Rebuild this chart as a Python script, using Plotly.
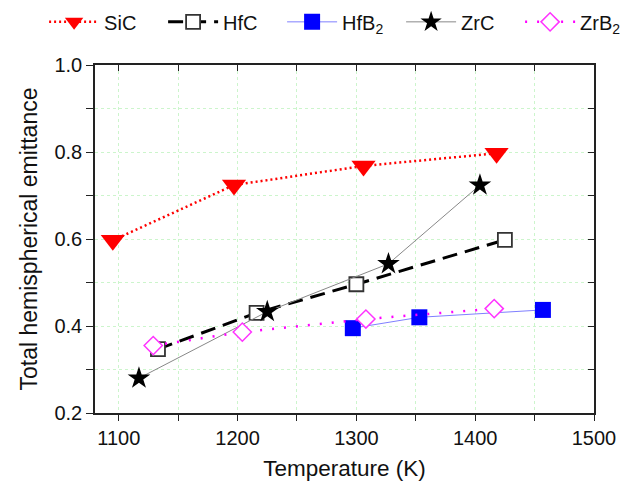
import plotly.graph_objects as go

# Data
sic_T = [1095, 1197, 1306, 1418]
sic_e = [0.597, 0.724, 0.768, 0.797]

hfc_T = [1133, 1216, 1300, 1425]
hfc_e = [0.347, 0.430, 0.496, 0.598]

hfb2_T = [1297, 1353, 1457]
hfb2_e = [0.395, 0.420, 0.437]

zrc_T = [1117, 1225, 1327, 1404]
zrc_e = [0.280, 0.433, 0.543, 0.724]

zrb2_T = [1129, 1204, 1308, 1416]
zrb2_e = [0.355, 0.386, 0.416, 0.440]

x_range = [1080, 1500]
y_range = [0.2, 1.0]
x_ticks = [1100, 1200, 1300, 1400, 1500]
y_ticks = [0.2, 0.4, 0.6, 0.8, 1.0]

FONT = "Liberation Sans, Arial, sans-serif"

fig = go.Figure()

fig.add_trace(go.Scatter(
    x=sic_T, y=sic_e, name="SiC", mode="lines+markers",
    line=dict(color="#FF0000", width=2.5, dash="2px,3px"),
    marker=dict(symbol="triangle-down", size=21, color="#FF0000"),
))
fig.add_trace(go.Scatter(
    x=hfc_T, y=hfc_e, name="HfC", mode="lines+markers",
    line=dict(color="#000000", width=3, dash="15px,8px"),
    marker=dict(symbol="square", size=14, color="#FFFFFF",
                line=dict(width=1.8, color="#333333")),
))
fig.add_trace(go.Scatter(
    x=hfb2_T, y=hfb2_e, name="HfB<sub>2</sub>", mode="lines+markers",
    line=dict(color="#7F7FFF", width=1),
    marker=dict(symbol="square", size=16, color="#0000FF"),
))
fig.add_trace(go.Scatter(
    x=zrc_T, y=zrc_e, name="ZrC", mode="lines+markers",
    line=dict(color="#888888", width=1),
    marker=dict(symbol="star", size=17, color="#000000"),
))
fig.add_trace(go.Scatter(
    x=zrb2_T, y=zrb2_e, name="ZrB<sub>2</sub>", mode="lines+markers",
    line=dict(color="#FF00FF", width=2.5, dash="2px,10px"),
    marker=dict(symbol="diamond", size=14, color="#FFFFFF",
                line=dict(width=1.5, color="#FF33FF")),
))

# invisible trace to drive the mirrored top/right axes
fig.add_trace(go.Scatter(x=x_range, y=y_range, xaxis="x2", yaxis="y2",
                         mode="markers", marker=dict(opacity=0),
                         showlegend=False, hoverinfo="skip"))

grid = dict(showgrid=True, gridcolor="#CCF5CC", griddash="dot", gridwidth=1)

fig.update_layout(
    width=633, height=484,
    margin=dict(l=95, r=39, t=65, b=71, autoexpand=False),
    paper_bgcolor="white", plot_bgcolor="white",
    font=dict(family=FONT, size=20, color="#111111"),
    showlegend=True,
    legend=dict(orientation="h", x=-0.102, y=1.124,
                xanchor="left", yanchor="middle",
                font=dict(size=20, family=FONT),
                entrywidth=54, entrywidthmode="pixels",
                tracegroupgap=0, itemwidth=50, bgcolor="rgba(0,0,0,0)"),
    xaxis=dict(range=x_range, tickmode="array", tickvals=x_ticks,
               ticks="outside", ticklen=6, tickwidth=1.2, tickcolor="#222",
               tickfont=dict(size=20),
               minor=dict(dtick=50, ticks="outside", ticklen=6, tickcolor="#222",
                          showgrid=True, gridcolor="#CCF5CC", griddash="dot"),
               showline=True, linecolor="#222", linewidth=1.5, zeroline=False,
               automargin=False,
               title=dict(text="Temperature (K)", font=dict(size=22.5), standoff=12),
               **grid),
    yaxis=dict(range=y_range, tickmode="array", tickvals=y_ticks,
               ticktext=[f"{v:.1f}" for v in y_ticks],
               ticks="outside", ticklen=7, tickwidth=1.2, tickcolor="#222",
               tickfont=dict(size=20),
               minor=dict(dtick=0.1, ticks="outside", ticklen=7, tickcolor="#222",
                          showgrid=True, gridcolor="#CCF5CC", griddash="dot"),
               showline=True, linecolor="#222", linewidth=1.5, zeroline=False,
               automargin=False,
               title=dict(text="Total hemispherical emittance", font=dict(size=23), standoff=10),
               **grid),
    xaxis2=dict(range=x_range, overlaying="x", side="top", dtick=50, tick0=1100,
                ticks="inside", ticklen=6, tickcolor="#222", showticklabels=False,
                showgrid=False, showline=True, linecolor="#222", linewidth=1.5,
                zeroline=False, automargin=False),
    yaxis2=dict(range=y_range, overlaying="y", side="right", dtick=0.1, tick0=0.2,
                ticks="inside", ticklen=6, tickcolor="#222", showticklabels=False,
                showgrid=False, showline=True, linecolor="#222", linewidth=1.5,
                zeroline=False, automargin=False),
)

fig.write_html("out.html", config={"displayModeBar": False},
               post_script="document.body.style.margin='0px';")
